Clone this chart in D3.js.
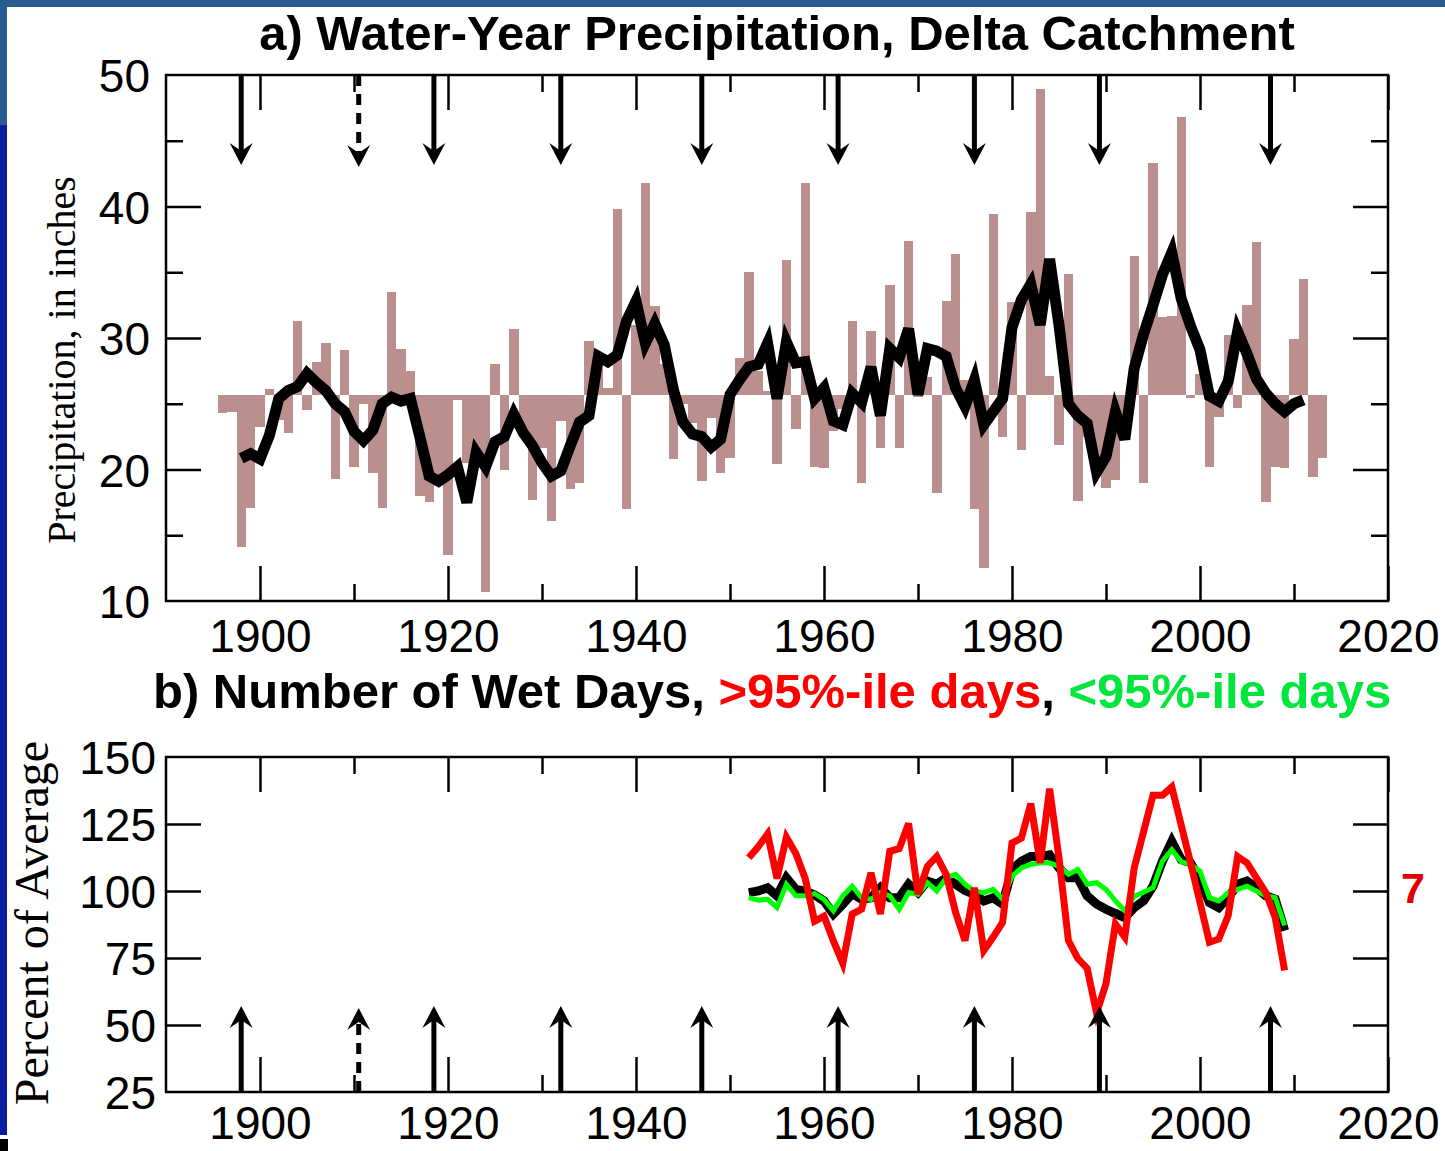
<!DOCTYPE html>
<html lang="en">
  <head>
    <meta charset="UTF-8" />
    <title>Delta Catchment precipitation and wet days</title>
    <script src="https://d3js.org/d3.v7.min.js"></script>
    <style>
      html,
      body {
        margin: 0;
        padding: 0;
        background-color: #fff;
      }
      svg {
        display: block;
      }
      .panel-title {
        font-family: "Liberation Sans", Arial, sans-serif;
        font-size: 49px;
        font-weight: bold;
      }
      .axis-title {
        font-family: "Liberation Serif", "Times New Roman", serif;
      }
    </style>
  </head>
  <body>
    <svg id="chart"></svg>
    <script>
      const width = 1445;
      const height = 1151;

      // a) water-year precipitation (inches), one bar per year from 1896
      const precipFirstYear = 1896;
      const precipValues = [
        24.3, 24.4, 14.1, 17.1, 23.2, 26.1, 23.8, 22.8, 31.3, 24.5,
        28.2, 29.6, 19.3, 29.1, 20.2, 25.0, 19.7, 17.1, 33.5, 29.2,
        27.5, 18.0, 17.5, 19.5, 13.5, 25.3, 20.5, 21.0, 10.7, 28.0,
        20.0, 30.7, 22.5, 17.7, 21.6, 16.1, 23.7, 18.5, 19.0, 29.8,
        28.6, 26.2, 39.8, 17.0, 31.0, 41.8, 32.4, 28.0, 20.8, 25.0,
        23.5, 19.1, 23.9, 19.7, 20.9, 28.5, 35.0, 27.5, 26.0, 20.4,
        35.9, 23.1, 41.8, 20.2, 20.1, 22.9, 24.6, 31.3, 19.0, 30.5,
        21.6, 34.0, 21.6, 37.4, 25.5, 27.0, 18.2, 32.8, 36.4, 26.8,
        17.0, 12.5, 39.4, 22.5, 32.7, 21.5, 39.6, 48.9, 27.1, 21.9,
        34.9, 17.6, 22.5, 21.0, 18.6, 19.2, 22.3, 36.2, 19.0, 43.3,
        31.6, 31.7, 46.8, 25.45, 27.3, 20.2, 24.0, 30.2, 24.7, 32.5,
        37.3, 17.5, 20.2, 20.1, 29.9, 34.5, 19.4, 20.9
      ];
      const precipMean = 25.7;

      // smoothed precipitation curve, from 1898
      const smoothFirstYear = 1898;
      const smoothValues = [
        20.85, 21.2, 20.8, 22.6, 25.4, 26.0, 26.3, 27.3, 26.6, 26.0,
        25.0, 24.4, 22.9, 22.2, 23.0, 25.0, 25.5, 25.2, 25.4, 22.5,
        19.5, 19.1, 19.6, 20.2, 17.5, 21.3, 20.2, 22.1, 22.5, 24.2,
        22.8, 21.8, 20.5, 19.5, 19.9, 21.8, 23.6, 24.1, 28.6, 28.2,
        28.7, 31.3, 32.8, 29.6, 31.1, 29.5, 26.0, 23.6, 22.7, 22.5,
        21.7, 22.3, 25.7, 26.8, 27.8, 28.0, 29.6, 25.4, 29.7, 28.1,
        28.2, 25.4, 26.2, 23.7, 23.4, 25.8, 25.1, 27.8, 24.1, 29.2,
        28.5, 30.7, 25.7, 29.2, 29.0, 28.6, 26.2, 24.8, 26.8, 23.4,
        24.4, 25.4, 30.8, 32.9, 34.1, 31.0, 36.0, 31.0, 25.0, 24.1,
        23.5, 19.8, 21.0, 24.4, 22.3, 27.7, 30.3, 32.5, 34.8, 36.5,
        33.0, 30.9, 29.1, 25.6, 25.2, 26.7, 30.5, 28.8, 26.9, 25.8,
        25.0, 24.4, 25.0, 25.3
      ];

      // b) number of wet days, percent of average, from 1952
      const wetFirstYear = 1952;
      const wetAll = [
        99.4, 100.0, 101.2, 98.2, 104.9, 100.6, 100.0, 98.5, 96.3, 91.4,
        95.1, 99.0, 96.9, 97.5, 101.2, 97.5, 97.5, 102.5, 99.4, 103.7,
        102.5, 104.9, 102.5, 100.2, 98.8, 96.3, 97.5, 95.1, 108.0, 111.1,
        112.9, 112.9, 113.5, 108.6, 104.9, 104.9, 98.2, 95.1, 93.2, 91.6,
        90.1, 93.8, 96.3, 101.8, 111.1, 118.5, 111.7, 110.5, 104.3, 95.7,
        93.8, 97.5, 102.5, 103.7, 101.2, 98.2, 96.9, 85.2
      ];
      const wetBelow95 = [
        97.5, 96.6, 96.9, 93.8, 102.5, 98.2, 98.2, 99.0, 96.9, 92.6,
        98.2, 101.8, 97.5, 96.9, 99.4, 98.2, 93.2, 99.4, 98.8, 103.1,
        100.0, 104.9, 106.2, 102.5, 100.0, 99.4, 100.6, 96.9, 105.5, 108.6,
        109.9, 110.5, 110.5, 109.2, 106.2, 108.0, 102.5, 103.1, 100.6, 96.3,
        92.6, 98.0, 99.5, 101.2, 111.1, 115.4, 111.0, 109.9, 107.4, 97.5,
        96.3, 99.4, 100.6, 101.8, 100.0, 98.2, 97.5, 87.1
      ];
      const wetAbove95 = [
        112.4, 116.5, 121.3, 104.7, 120.1, 114.0, 104.7, 88.7, 90.6, 81.4,
        73.0, 91.4, 93.2, 106.8, 91.4, 114.8, 115.8, 125.2, 98.8, 109.2,
        112.9, 106.2, 92.0, 81.5, 101.2, 77.8, 82.8, 88.3, 117.9, 119.7,
        132.6, 110.5, 138.2, 112.3, 81.5, 74.8, 71.1, 54.4, 65.5, 87.7,
        82.8, 108.6, 122.2, 135.7, 135.7, 138.8, 124.6, 110.5, 95.7, 80.9,
        82.1, 90.8, 112.9, 110.5, 104.9, 99.4, 90.1, 70.4
      ];

      // drought markers (arrows)
      const droughtYears = [1898, 1918.5, 1932, 1947, 1961.5, 1976, 1989.3, 2007.5];
      const dashedDroughtYears = [1910.5];

      const yearLabels = [1900, 1920, 1940, 1960, 1980, 2000, 2020];
      const yearMinor = [1910, 1930, 1950, 1970, 1990, 2010];
      const precipLabels = [10, 20, 30, 40, 50];
      const precipMinor = [15, 25, 35, 45];
      const percentLabels = [25, 50, 75, 100, 125, 150];

      const svg = d3
        .select("#chart")
        .attr("width", width)
        .attr("height", height);

      svg.append("rect").attr("width", width).attr("height", height).attr("fill", "#fff");

      // slide border bits
      svg.append("rect").attr("x", 0).attr("y", 0).attr("width", width).attr("height", 7).attr("fill", "#285c8e");
      svg.append("rect").attr("x", 0).attr("y", 0).attr("width", 7).attr("height", 125).attr("fill", "#285c8e");
      svg.append("rect").attr("x", 0).attr("y", 125).attr("width", 7).attr("height", 1010).attr("fill", "#0a1ca2");
      svg.append("rect").attr("x", 0).attr("y", 1139).attr("width", 8).attr("height", 12).attr("fill", "#000");

      const x = d3.scaleLinear().domain([1890, 2020]).range([166, 1388]);
      const yA = d3.scaleLinear().domain([10, 50]).range([601, 75]);
      const yB = d3.scaleLinear().domain([25, 150]).range([1092, 757]);

      const precip = precipValues.map((v, i) => ({ year: precipFirstYear + i, value: v }));
      const smooth = smoothValues.map((v, i) => ({ year: smoothFirstYear + i, value: v }));
      const toSeries = (arr) => arr.map((v, i) => ({ year: wetFirstYear + i, value: v }));

      // inward ticks on all four sides of a panel
      function frameTicks(g, yScale, yMajor, yMinor) {
        const [bottom, top] = yScale.range();
        const [left, right] = x.range();
        const sets = [
          [d3.axisTop(x), `translate(0,${bottom})`, yearLabels, yearMinor],
          [d3.axisBottom(x), `translate(0,${top})`, yearLabels, yearMinor],
          [d3.axisRight(yScale), `translate(${left},0)`, yMajor, yMinor],
          [d3.axisLeft(yScale), `translate(${right},0)`, yMajor, yMinor],
        ];
        sets.forEach(([axis, tr, major, minor]) => {
          g.append("g").attr("transform", tr)
            .call(axis.tickValues(major).tickSize(35).tickFormat(""));
          g.append("g").attr("transform", tr)
            .call(axis.tickValues(minor).tickSize(17).tickFormat(""));
        });
        g.selectAll(".domain").remove();
        g.selectAll(".tick line").attr("stroke", "#000").attr("stroke-width", 2.5);
      }

      function tickLabels(g, yScale, values, padX, padY) {
        const [bottom] = yScale.range();
        const bx = g.append("g").attr("transform", `translate(0,${bottom})`)
          .call(d3.axisBottom(x).tickValues(yearLabels).tickSize(0)
            .tickPadding(padY).tickFormat(d3.format("d")));
        const ly = g.append("g").attr("transform", `translate(${x.range()[0]},0)`)
          .call(d3.axisLeft(yScale).tickValues(values).tickSize(0).tickPadding(padX));
        ly.selectAll("text").attr("dy", "0.36em");
        [bx, ly].forEach((a) => {
          a.select(".domain").remove();
          a.attr("font-family", "'Liberation Sans', Arial, sans-serif")
            .attr("font-size", 46);
          a.selectAll("text").attr("fill", "#000");
        });
      }

      function arrow(g, year, yBase, yTip, dashed) {
        const xp = x(year);
        const dir = yTip > yBase ? 1 : -1;
        g.append("line")
          .attr("x1", xp).attr("x2", xp)
          .attr("y1", yBase).attr("y2", yTip - dir * 12)
          .attr("stroke", "#000")
          .attr("stroke-width", 5)
          .attr("stroke-dasharray", dashed ? "11,8" : null);
        g.append("path")
          .attr("d", `M${xp},${yTip} L${xp - 11.5},${yTip - dir * 22} L${xp},${yTip - dir * 14} L${xp + 11.5},${yTip - dir * 22} Z`)
          .attr("fill", "#000");
      }

      // ---------- panel a ----------
      const pa = svg.append("g");

      pa.append("text")
        .attr("class", "panel-title")
        .attr("x", 777)
        .attr("y", 50)
        .attr("text-anchor", "middle")
        .text("a) Water-Year Precipitation, Delta Catchment");

      pa.append("g")
        .selectAll("rect")
        .data(precip)
        .enter()
        .append("rect")
        .attr("x", (d) => x(d.year - 0.5))
        .attr("width", (d) => x(d.year + 0.5) - x(d.year - 0.5))
        .attr("y", (d) => yA(Math.max(d.value, precipMean)))
        .attr("height", (d) => Math.abs(yA(d.value) - yA(precipMean)))
        .attr("fill", "#bc8f8f")
        .attr("shape-rendering", "crispEdges");

      const lineA = d3.line().x((d) => x(d.year)).y((d) => yA(d.value));
      pa.append("path")
        .datum(smooth)
        .attr("d", lineA)
        .attr("fill", "none")
        .attr("stroke", "#000")
        .attr("stroke-width", 11)
        .attr("stroke-linejoin", "miter");

      droughtYears.forEach((yr) => arrow(pa, yr, yA.range()[1], 165, false));
      dashedDroughtYears.forEach((yr) => arrow(pa, yr, yA.range()[1], 167, true));

      frameTicks(pa.append("g"), yA, [20, 30, 40], precipMinor);
      pa.append("rect")
        .attr("x", 166).attr("y", 75)
        .attr("width", x.range()[1] - x.range()[0])
        .attr("height", yA.range()[0] - yA.range()[1])
        .attr("fill", "none").attr("stroke", "#000").attr("stroke-width", 2.5);
      tickLabels(pa.append("g"), yA, precipLabels, 16, 18);

      pa.append("text")
        .attr("class", "axis-title")
        .attr("transform", "translate(75,360) rotate(-90)")
        .attr("text-anchor", "middle")
        .attr("font-size", 40)
        .text("Precipitation, in inches");

      // ---------- panel b ----------
      const pb = svg.append("g");

      const titleB = pb.append("text")
        .attr("class", "panel-title")
        .attr("x", 153)
        .attr("y", 708);
      titleB.append("tspan").attr("fill", "#000").text("b) Number of Wet Days, ");
      titleB.append("tspan").attr("fill", "#ff0000").text(">95%-ile days");
      titleB.append("tspan").attr("fill", "#000").text(", ");
      titleB.append("tspan").attr("fill", "#00e63c").text("<95%-ile days");

      const lineB = d3.line().x((d) => x(d.year)).y((d) => yB(d.value));
      [
        [wetAll, "#000", 9],
        [wetBelow95, "#00ff00", 5],
        [wetAbove95, "#ff0000", 7],
      ].forEach(([vals, color, w]) => {
        pb.append("path")
          .datum(toSeries(vals))
          .attr("d", lineB)
          .attr("fill", "none")
          .attr("stroke", color)
          .attr("stroke-width", w)
          .attr("stroke-linejoin", "miter");
      });

      droughtYears.forEach((yr) => arrow(pb, yr, yB.range()[0], 1006, false));
      dashedDroughtYears.forEach((yr) => arrow(pb, yr, yB.range()[0], 1008, true));

      frameTicks(pb.append("g"), yB, [50, 75, 100, 125], []);
      pb.append("rect")
        .attr("x", 166).attr("y", 757)
        .attr("width", x.range()[1] - x.range()[0])
        .attr("height", yB.range()[0] - yB.range()[1])
        .attr("fill", "none").attr("stroke", "#000").attr("stroke-width", 2.5);
      tickLabels(pb.append("g"), yB, percentLabels, 10, 14);

      pb.append("text")
        .attr("class", "axis-title")
        .attr("transform", "translate(48,923) rotate(-90)")
        .attr("text-anchor", "middle")
        .attr("font-size", 48)
        .text("Percent of Average");

      // slide number
      svg.append("text")
        .attr("x", 1413)
        .attr("y", 903)
        .attr("text-anchor", "middle")
        .attr("font-family", "'Liberation Sans', Arial, sans-serif")
        .attr("font-weight", "bold")
        .attr("font-size", 43)
        .attr("fill", "#e00000")
        .text("7");
    </script>
  </body>
</html>
